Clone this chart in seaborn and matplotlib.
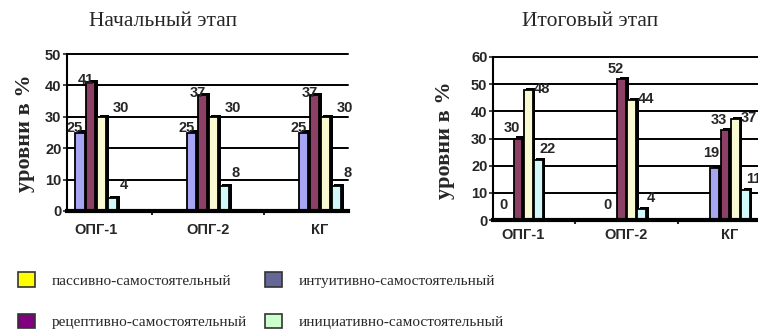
import numpy as np
import pandas as pd
import matplotlib
matplotlib.use("Agg")
import matplotlib.pyplot as plt
import matplotlib.patheffects as pe
from matplotlib.patches import Patch
import seaborn as sns

groups = ["ОПГ-1", "ОПГ-2", "КГ"]
levels = ["интуитивно-самостоятельный", "рецептивно-самостоятельный",
          "пассивно-самостоятельный", "инициативно-самостоятельный"]

# начальный этап
start_intuitive = [25, 25, 25]
start_receptive = [41, 37, 37]
start_passive = [30, 30, 30]
start_initiative = [4, 8, 8]

# итоговый этап
final_intuitive = [0, 0, 19]
final_receptive = [30, 52, 33]
final_passive = [48, 44, 37]
final_initiative = [22, 4, 11]

bar_colors = ["#9999FF", "#993366", "#FFFFCC", "#CCFFFF"]
legend_colors = {"пассивно-самостоятельный": "#FFFF00",
                 "рецептивно-самостоятельный": "#800080",
                 "интуитивно-самостоятельный": "#666699",
                 "инициативно-самостоятельный": "#CCFFCC"}
legend_order = ["пассивно-самостоятельный", "рецептивно-самостоятельный",
                "интуитивно-самостоятельный", "инициативно-самостоятельный"]


def make_df(series):
    rows = []
    for lev, vals in zip(levels, series):
        for g, v in zip(groups, vals):
            rows.append({"group": g, "level": lev, "value": v})
    return pd.DataFrame(rows)


df_start = make_df([start_intuitive, start_receptive, start_passive, start_initiative])
df_final = make_df([final_intuitive, final_receptive, final_passive, final_initiative])

sns.set_style("white")
plt.rcParams["font.family"] = ["Liberation Sans", "DejaVu Sans"]

fig = plt.figure(figsize=(7.58, 3.32), dpi=100)
ax1 = fig.add_axes([67 / 758, 1 - 211 / 332, 281 / 758, 157 / 332])
ax2 = fig.add_axes([493 / 758, 1 - 220 / 332, 265 / 758, 163 / 332])

# label offsets in pixels (dx, dy) per level, like the excel 3d labels
offsets_start = [(-5, 5), (-5, 2), (19, 9), (11, 13)]
offsets_final = [(-4, 15), (-6, 10), (14, 1), (9, 11)]


def draw(ax, df, ymax, xlim, xpad, offsets):
    sns.barplot(data=df, x="group", y="value", hue="level", hue_order=levels,
                palette=bar_colors, width=0.39, gap=0.12, edgecolor="black",
                linewidth=1.3, errorbar=None, legend=False, ax=ax)
    for cont, (dx, dy) in zip(ax.containers, offsets):
        for bar in cont:
            bar.set_path_effects([pe.SimplePatchShadow(offset=(2, 1.5), shadow_rgbFace="black", alpha=1),
                                  pe.Normal()])
            h = bar.get_height()
            ax.annotate(f"{h:.0f}", (bar.get_x() + bar.get_width() / 2, h),
                        xytext=(dx, dy), textcoords="offset pixels",
                        ha="center", va="center", fontsize=10.5, fontweight="bold")
    ax.set_ylim(0, ymax)
    ax.set_xlim(*xlim)
    ax.set_yticks(np.arange(0, ymax + 1, 10))
    ax.set_xticks([0.5, 1.5], minor=True)
    for y in np.arange(10, ymax + 1, 10):
        ax.axhline(y, color="black", lw=1.4, zorder=0.5, clip_on=False)
    for s in ["top", "right"]:
        ax.spines[s].set_visible(False)
    ax.spines["left"].set_linewidth(1.5)
    ax.spines["bottom"].set_linewidth(3)
    ax.spines["left"].set_color("black")
    ax.spines["bottom"].set_color("black")
    ax.tick_params(axis="y", length=3, width=1.2, direction="out", left=True, pad=1,
                   labelsize=10.5)
    ax.tick_params(axis="x", which="major", length=0, pad=xpad, labelsize=10.5)
    ax.tick_params(axis="x", which="minor", length=3, width=1.5, direction="out", bottom=True)
    for t in ax.get_xticklabels() + ax.get_yticklabels():
        t.set_fontweight("bold")
    ax.set_xlabel("")
    ax.set_ylabel("")
    ax.set_facecolor("none")


draw(ax1, df_start, 50, (-0.26, 2.25), 9, offsets_start)
draw(ax2, df_final, 60, (-0.29, 2.27), 6, offsets_final)

serif = ["Liberation Serif", "DejaVu Serif"]
fig.text(163 / 758, 1 - 21 / 332, "Начальный этап", ha="center", va="center",
         fontsize=15.5, family=serif)
fig.text(590 / 758, 1 - 21 / 332, "Итоговый этап", ha="center", va="center",
         fontsize=15.5, family=serif)
fig.text(25 / 758, 1 - 133 / 332, "уровни в %", ha="center", va="center",
         rotation=90, fontsize=16, fontweight="bold", family=serif)
fig.text(445 / 758, 1 - 140 / 332, "уровни в %", ha="center", va="center",
         rotation=90, fontsize=16, fontweight="bold", family=serif)

handles = [Patch(facecolor=legend_colors[l], edgecolor="#333333", linewidth=1.2)
           for l in legend_order]
leg = fig.legend(handles, legend_order, loc="upper left", ncol=2,
                 bbox_to_anchor=(18 / 758, 1 - 272 / 332), frameon=False,
                 borderpad=0, borderaxespad=0, handlelength=1.1, handleheight=1.1,
                 handletextpad=1.1, columnspacing=1.2, labelspacing=1.7,
                 prop={"family": serif, "size": 11})

fig.savefig("out.png", dpi=100)
